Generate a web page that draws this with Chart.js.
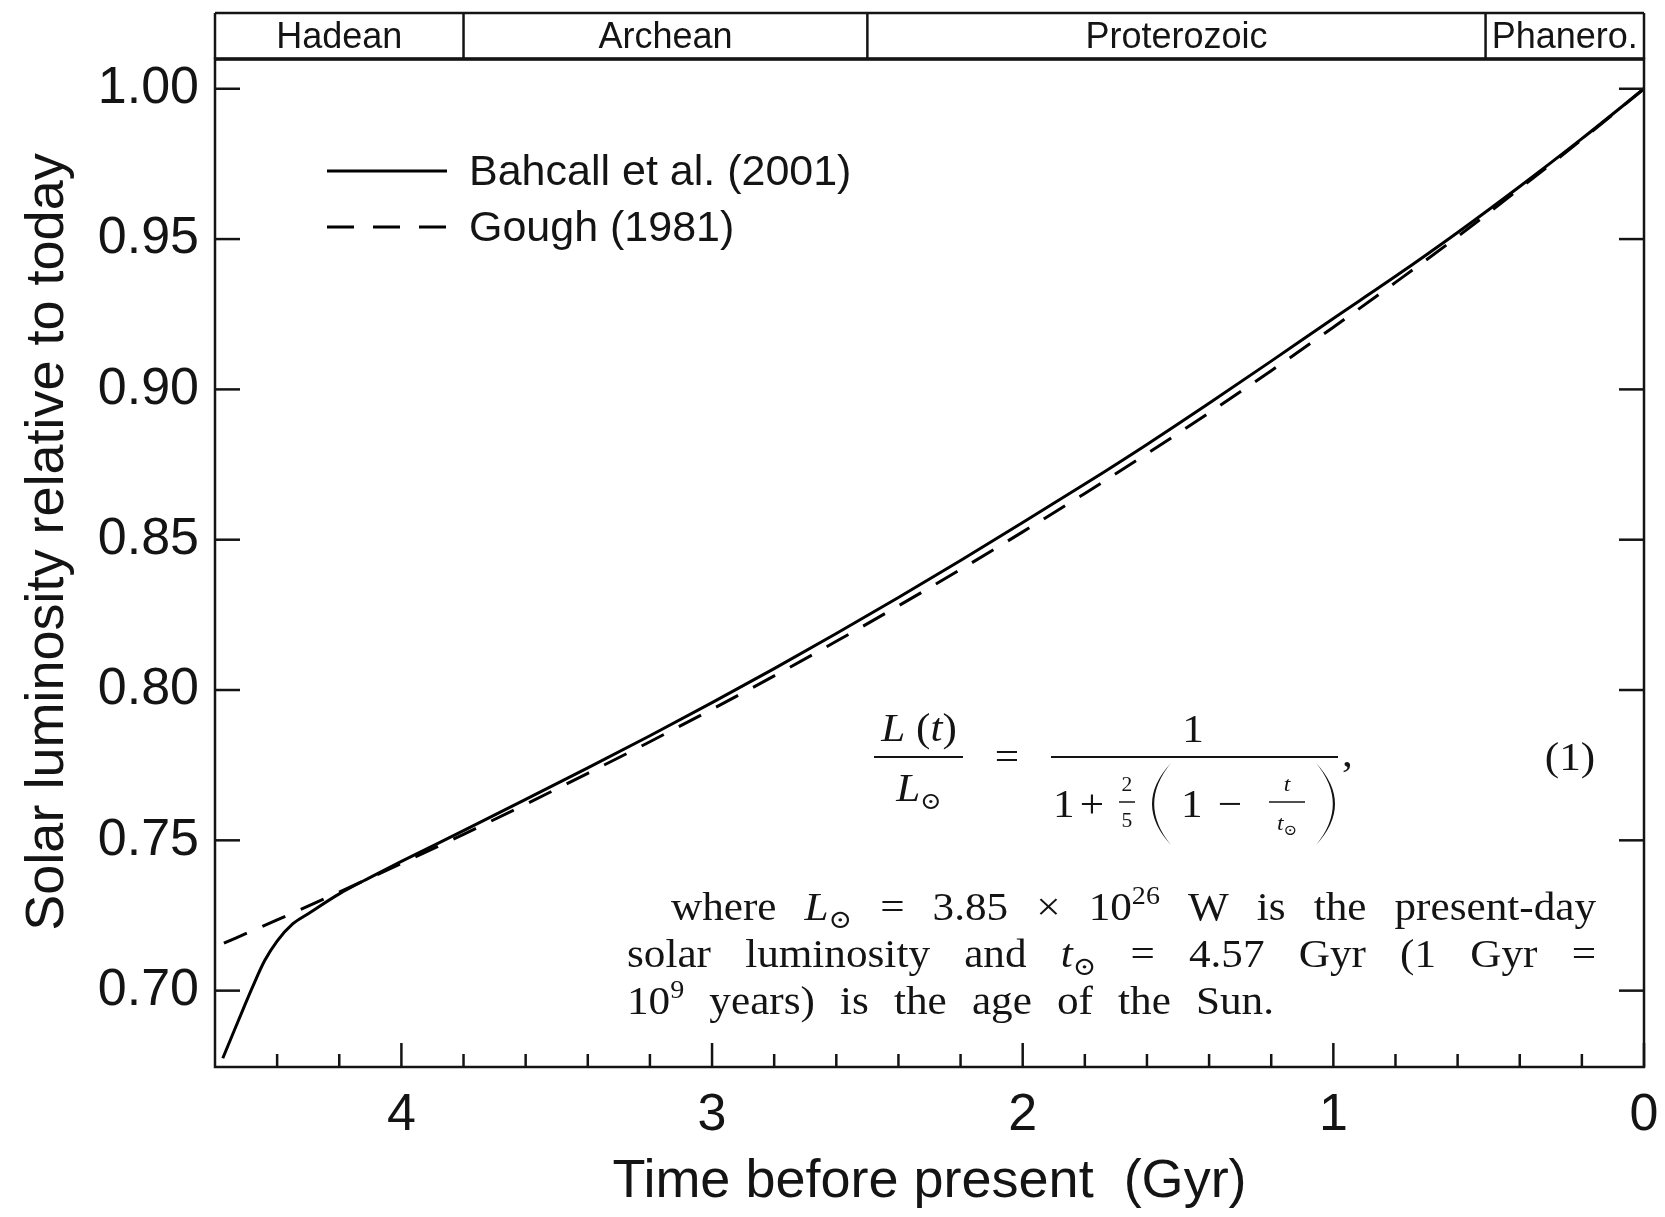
<!DOCTYPE html>
<html><head><meta charset="utf-8">
<script src="https://cdn.jsdelivr.net/npm/chart.js@4.4.0/dist/chart.umd.min.js"></script>
<style>html,body{margin:0;padding:0;background:#fff;overflow:hidden}#wrap{width:1665px;height:1217px;position:relative;background:#fff}</style>
</head><body><div id="wrap"><canvas id="c" width="1665" height="1217"></canvas></div>
<script>
// ---- data ----
const gyrBahcall = [0, 0.2, 0.4, 0.6, 0.8, 1.0, 1.2, 1.4, 1.6, 1.8, 2.0, 2.2, 2.4, 2.6, 2.8, 3.0, 3.2, 3.4, 3.6, 3.8, 4.0, 4.1, 4.2, 4.3, 4.35, 4.40, 4.44, 4.48, 4.51, 4.545, 4.575];
const lumBahcall = [1.0000, 0.9834, 0.9675, 0.9522, 0.9376, 0.9236, 0.9094, 0.8954, 0.8817, 0.8685, 0.8557, 0.8431, 0.8308, 0.8188, 0.8071, 0.7958, 0.7848, 0.7741, 0.7636, 0.7532, 0.7430, 0.7377, 0.7322, 0.7256, 0.7222, 0.7165, 0.7100, 0.7010, 0.6937, 0.6850, 0.6775];
const gyrGough = [0, 0.2, 0.4, 0.6, 0.8, 1.0, 1.2, 1.4, 1.6, 1.8, 2.0, 2.2, 2.4, 2.6, 2.8, 3.0, 3.2, 3.4, 3.6, 3.8, 4.0, 4.2, 4.4, 4.6];
const lumGough = [1.0000, 0.9831, 0.9668, 0.9508, 0.9356, 0.9207, 0.9062, 0.8922, 0.8786, 0.8654, 0.8526, 0.8401, 0.8280, 0.8162, 0.8047, 0.7936, 0.7828, 0.7723, 0.7620, 0.7520, 0.7423, 0.7328, 0.7235, 0.7145];
const seriesLabels = ['Bahcall et al. (2001)', 'Gough (1981)'];
const yTickValues = [0.70, 0.75, 0.80, 0.85, 0.90, 0.95, 1.00];
const xTickValues = [0, 1, 2, 3, 4];
const xMinorTickValues = [0.2, 0.4, 0.6, 0.8, 1.2, 1.4, 1.6, 1.8, 2.2, 2.4, 2.6, 2.8, 3.2, 3.4, 3.6, 3.8, 4.2, 4.4];
const eraNames = ['Hadean', 'Archean', 'Proterozoic', 'Phanero.'];
const eraBounds = [4.6, 3.8, 2.5, 0.51, 0];
const axisTitleX = 'Time before present  (Gyr)';
const axisTitleY = 'Solar luminosity relative to today';

const SANS = '"Liberation Sans", Arial, Helvetica, sans-serif';
const SERIF = '"Liberation Serif", "DejaVu Serif", serif';
const INK = '#141414';

function runsWidth(ctx, runs, hs) {
  let w = 0;
  runs.forEach(r => { ctx.font = r.f; w += ctx.measureText(r.t).width * hs; });
  return w;
}
function drawRuns(ctx, runs, x, base, hs) {
  runs.forEach(r => {
    ctx.font = r.f;
    const w = ctx.measureText(r.t).width * hs;
    ctx.save(); ctx.translate(x, base + (r.dy || 0)); ctx.scale(hs, 1);
    ctx.textAlign = 'left'; ctx.textBaseline = 'alphabetic';
    ctx.fillText(r.t, 0, 0); ctx.restore();
    x += w;
  });
  return x;
}
const FR = s => `${s}px ${SERIF}`;
const FI = s => `italic ${s}px ${SERIF}`;
function R(t, s = 40, dy = 0) { return { t, f: FR(s), dy }; }
function I(t, s = 40, dy = 0) { return { t, f: FI(s), dy }; }

function paren(ctx, xEnd, yTop, yBot, bulge, dir, thick) {
  const mid = (yTop + yBot) / 2;
  ctx.beginPath();
  ctx.moveTo(xEnd, yTop);
  ctx.quadraticCurveTo(xEnd - dir * bulge * 2, mid, xEnd, yBot);
  ctx.quadraticCurveTo(xEnd - dir * (bulge * 2 - thick * 2), mid, xEnd, yTop);
  ctx.closePath();
  ctx.fill();
}

const decor = {
  id: 'decor',
  afterDraw(chart) {
    const { ctx, chartArea: a, scales: { x, y } } = chart;
    ctx.save();
    ctx.strokeStyle = INK; ctx.fillStyle = INK; ctx.lineCap = 'butt';
    const seg = (x1, y1, x2, y2, w) => { ctx.lineWidth = w; ctx.beginPath(); ctx.moveTo(x1, y1); ctx.lineTo(x2, y2); ctx.stroke(); };
    // frame
    ctx.lineWidth = 2.5; ctx.strokeRect(a.left, a.top, a.right - a.left, a.bottom - a.top);
    // inward ticks
    yTickValues.forEach(v => { const p = y.getPixelForValue(v); seg(a.left, p, a.left + 25, p, 2.5); seg(a.right, p, a.right - 25, p, 2.5); });
    xTickValues.forEach(v => { const p = x.getPixelForValue(v); seg(p, a.bottom, p, a.bottom - 24, 2.5); });
    xMinorTickValues.forEach(v => { const p = x.getPixelForValue(v); seg(p, a.bottom, p, a.bottom - 13, 2.5); });
    // era band
    const bTop = 13, bBot = a.top;
    seg(a.left, bTop, a.right, bTop, 2.5);
    seg(a.left, bTop, a.left, bBot, 2.5);
    seg(a.right, bTop, a.right, bBot, 2.5);
    seg(a.left, bBot, a.right, bBot, 3.5);
    for (let i = 1; i < eraBounds.length - 1; i++) { const p = x.getPixelForValue(eraBounds[i]); seg(p, bTop, p, bBot, 2.5); }
    ctx.font = `36px ${SANS}`; ctx.textAlign = 'center'; ctx.textBaseline = 'middle';
    eraNames.forEach((n, i) => {
      const p1 = x.getPixelForValue(eraBounds[i]), p2 = x.getPixelForValue(eraBounds[i + 1]);
      ctx.fillText(n, (p1 + p2) / 2, (bTop + bBot) / 2 + 2);
    });
    // y axis title
    ctx.save(); ctx.translate(48, 542); ctx.rotate(-Math.PI / 2);
    ctx.font = `54px ${SANS}`; ctx.textAlign = 'center'; ctx.textBaseline = 'middle';
    ctx.fillText(axisTitleY, 0, 0); ctx.restore();
    // legend
    const legY = [171, 227];
    chart.data.datasets.forEach((ds, i) => {
      ctx.save(); ctx.strokeStyle = ds.borderColor; ctx.lineWidth = ds.borderWidth;
      ctx.setLineDash(ds.borderDash ? [27, 19] : []);
      ctx.beginPath(); ctx.moveTo(327, legY[i]); ctx.lineTo(447, legY[i]); ctx.stroke(); ctx.restore();
      ctx.font = `43px ${SANS}`; ctx.textAlign = 'left'; ctx.textBaseline = 'middle';
      ctx.fillText(ds.label, 469, legY[i] + 2);
    });
    // formula
    const hs = 1.08;
    const num = [I('L'), R(' ('), I('t'), R(')')];
    drawRuns(ctx, num, 919 - runsWidth(ctx, num, hs) / 2, 741, hs);
    seg(874, 757, 963, 757, 2);
    const den = [I('L'), R('\u2299', 24, 8)];
    drawRuns(ctx, den, 919 - runsWidth(ctx, den, hs) / 2, 801, hs);
    const eq = [R('=')];
    drawRuns(ctx, eq, 1007 - runsWidth(ctx, eq, hs) / 2, 770, hs);
    const one = [R('1')];
    drawRuns(ctx, one, 1193 - runsWidth(ctx, one, hs) / 2, 742, hs);
    seg(1051, 757, 1338, 757, 2);
    drawRuns(ctx, [R('1')], 1053, 817, hs);
    const plus = [R('+')];
    drawRuns(ctx, plus, 1092 - runsWidth(ctx, plus, hs) / 2, 817, hs);
    const two = [R('2', 20)], five = [R('5', 20)];
    drawRuns(ctx, two, 1127 - runsWidth(ctx, two, hs) / 2, 791, hs);
    drawRuns(ctx, five, 1127 - runsWidth(ctx, five, hs) / 2, 827, hs);
    seg(1119, 802, 1135, 802, 1.5);
    paren(ctx, 1171, 763, 845, 19, 1, 2.2);
    drawRuns(ctx, [R('1')], 1181, 817, hs);
    const minus = [R('\u2212')];
    drawRuns(ctx, minus, 1230 - runsWidth(ctx, minus, hs) / 2, 817, hs);
    const tn = [I('t', 22)];
    drawRuns(ctx, tn, 1287 - runsWidth(ctx, tn, hs) / 2, 791, hs);
    seg(1269, 802, 1305, 802, 1.5);
    const td = [I('t', 22), R('\u2299', 15, 5)];
    drawRuns(ctx, td, 1287 - runsWidth(ctx, td, hs) / 2, 830, hs);
    paren(ctx, 1316, 763, 845, 19, -1, 2.2);
    drawRuns(ctx, [R(',')], 1342, 766, hs);
    const eqn = [R('(1)')];
    drawRuns(ctx, eqn, 1570 - runsWidth(ctx, eqn, hs) / 2, 770, hs);
    // explanatory text, justified
    const lines = [
      { x0: 671, x1: 1596, base: 920, toks: [[R('where')], [I('L'), R('\u2299', 26, 8)], [R('=')], [R('3.85')], [R('\u00d7')], [R('10'), R('26', 26, -16)], [R('W')], [R('is')], [R('the')], [R('present-day')]] },
      { x0: 627, x1: 1596, base: 967, toks: [[R('solar')], [R('luminosity')], [R('and')], [I('t'), R('\u2299', 26, 8)], [R('=')], [R('4.57')], [R('Gyr')], [R('(1')], [R('Gyr')], [R('=')]] },
      { x0: 627, x1: 1274, base: 1014, toks: [[R('10'), R('9', 26, -16)], [R('years)')], [R('is')], [R('the')], [R('age')], [R('of')], [R('the')], [R('Sun.')]] }
    ];
    lines.forEach(L => {
      const ws = L.toks.map(t => runsWidth(ctx, t, hs));
      const tot = ws.reduce((s, v) => s + v, 0);
      const gap = (L.x1 - L.x0 - tot) / (L.toks.length - 1);
      let cx = L.x0;
      L.toks.forEach((t, i) => { drawRuns(ctx, t, cx, L.base, hs); cx += ws[i] + gap; });
    });
    ctx.restore();
  }
};

new Chart(document.getElementById('c'), {
  type: 'line',
  data: {
    datasets: [
      { label: seriesLabels[0], data: gyrBahcall.map((g, i) => ({ x: g, y: lumBahcall[i] })), borderColor: '#000', borderWidth: 3, pointRadius: 0, fill: false, cubicInterpolationMode: 'monotone' },
      { label: seriesLabels[1], data: gyrGough.map((g, i) => ({ x: g, y: lumGough[i] })), borderColor: '#000', borderWidth: 3, borderDash: [25, 17], pointRadius: 0, fill: false, cubicInterpolationMode: 'monotone' }
    ]
  },
  options: {
    responsive: false, animation: false, devicePixelRatio: 1,
    layout: { padding: { top: 59, right: 21, left: 0, bottom: 0 } },
    plugins: { legend: { display: false }, tooltip: { enabled: false } },
    scales: {
      x: {
        type: 'linear', reverse: true, min: 0, max: 4.6,
        grid: { display: false }, border: { display: false },
        afterBuildTicks: s => { s.ticks = xTickValues.map(v => ({ value: v })); },
        afterFit: s => { s.height = 150; },
        ticks: { font: { family: SANS, size: 52 }, color: INK, padding: 9, maxRotation: 0, autoSkip: false, callback: v => String(v) },
        title: { display: true, text: axisTitleX, font: { family: SANS, size: 54 }, color: INK, padding: { top: 0, bottom: 2 } }
      },
      y: {
        type: 'linear', min: 0.6746, max: 1.0099,
        grid: { display: false }, border: { display: false },
        afterBuildTicks: s => { s.ticks = yTickValues.map(v => ({ value: v })); },
        afterFit: s => { s.width = 215; },
        ticks: { font: { family: SANS, size: 52 }, color: INK, padding: 8, autoSkip: false, callback: v => Number(v).toFixed(2) }
      }
    }
  },
  plugins: [decor]
});
</script>
</body></html>
